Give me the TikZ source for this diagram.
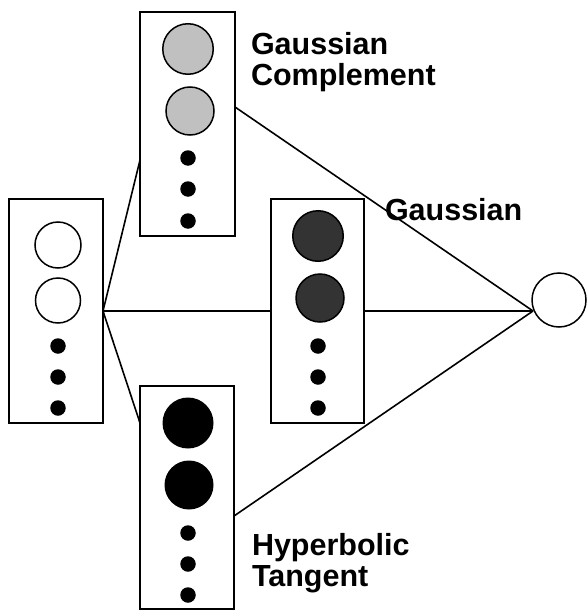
\documentclass[tikz,border=0pt]{standalone}
\usepackage{fontspec}
\setmainfont{Liberation Sans}
\usetikzlibrary{calc}
\begin{document}
\begin{tikzpicture}[x=1pt,y=-1pt,
  every node/.style={inner sep=0pt,outer sep=0pt},
  layerbox/.style={draw=black,line width=1.7pt,fill=white,rectangle,minimum width=94pt,minimum height=224pt},
  unit/.style={circle,draw=black,line width=1.5pt,minimum size=#1},
  dotunit/.style={circle,fill=black,minimum size=15.5pt},
  conn/.style={draw=black,line width=1.6pt},
  lbl/.style={font=\bfseries\fontsize{30.5}{31}\selectfont,align=left,anchor=north west}
]
\useasboundingbox (0,0) rectangle (586,610);
% boxes
\node[layerbox] (inbox) at (56,311) {};
\node[layerbox,minimum width=95pt] (topbox) at (187.5,124) {};
\node[layerbox,minimum width=93pt] (midbox) at (317.5,311) {};
\node[layerbox,minimum height=223pt] (botbox) at (187,497.5) {};
% output
\node[unit=54pt,fill=white] (out) at (559,300) {};
\coordinate (conv) at (533,311);
% connection points
\coordinate (tl) at ($(topbox.west)+(0,36)$);
\coordinate (tr) at ($(topbox.east)+(0,-17)$);
\coordinate (bl) at ($(botbox.west)+(0,-74.5)$);
\coordinate (br) at ($(botbox.east)+(0,18.5)$);
% connectors
\draw[conn] (inbox.east) -- (tl);
\draw[conn] (inbox.east) -- (bl);
\draw[conn] (inbox.east) -- (midbox.west);
\draw[conn] (midbox.east) -- (conv);
\draw[conn] (tr) -- (conv);
\draw[conn] (br) -- (conv);
% input units
\node[unit=46pt,fill=white] (i1) at (58,245) {};
\node[unit=45pt,fill=white] (i2) at (58,300.5) {};
\node[dotunit] (i3) at (58,346) {};
\node[dotunit] (i4) at (58,377) {};
\node[dotunit] (i5) at (58,408) {};
% gaussian complement units
\node[unit=50.5pt,fill={rgb,255:red,192;green,192;blue,192}] (t1) at (188,49) {};
\node[unit=48pt,fill={rgb,255:red,192;green,192;blue,192}] (t2) at (190,111) {};
\node[dotunit] (t3) at (188,158) {};
\node[dotunit] (t4) at (188,189) {};
\node[dotunit] (t5) at (188,221) {};
% gaussian units
\node[unit=50.5pt,fill={rgb,255:red,51;green,51;blue,51}] (m1) at (318,236) {};
\node[unit=48pt,fill={rgb,255:red,51;green,51;blue,51}] (m2) at (320,298) {};
\node[dotunit] (m3) at (318,346) {};
\node[dotunit] (m4) at (318,377) {};
\node[dotunit] (m5) at (318,408) {};
% hyperbolic tangent units
\node[circle,fill=black,minimum size=51pt] (b1) at (188,423) {};
\node[circle,fill=black,minimum size=49pt] (b2) at (189,485) {};
\node[dotunit] (b3) at (188,533) {};
\node[dotunit] (b4) at (188,564) {};
\node[dotunit] (b5) at (188,595) {};
% labels
\node[lbl] (lgc) at (251,32) {Gaussian\\Complement};
\node[lbl] (lg) at (385,198.5) {Gaussian};
\node[lbl] (lht) at (252,533.5) {Hyperbolic\\Tangent};
\end{tikzpicture}
\end{document}
